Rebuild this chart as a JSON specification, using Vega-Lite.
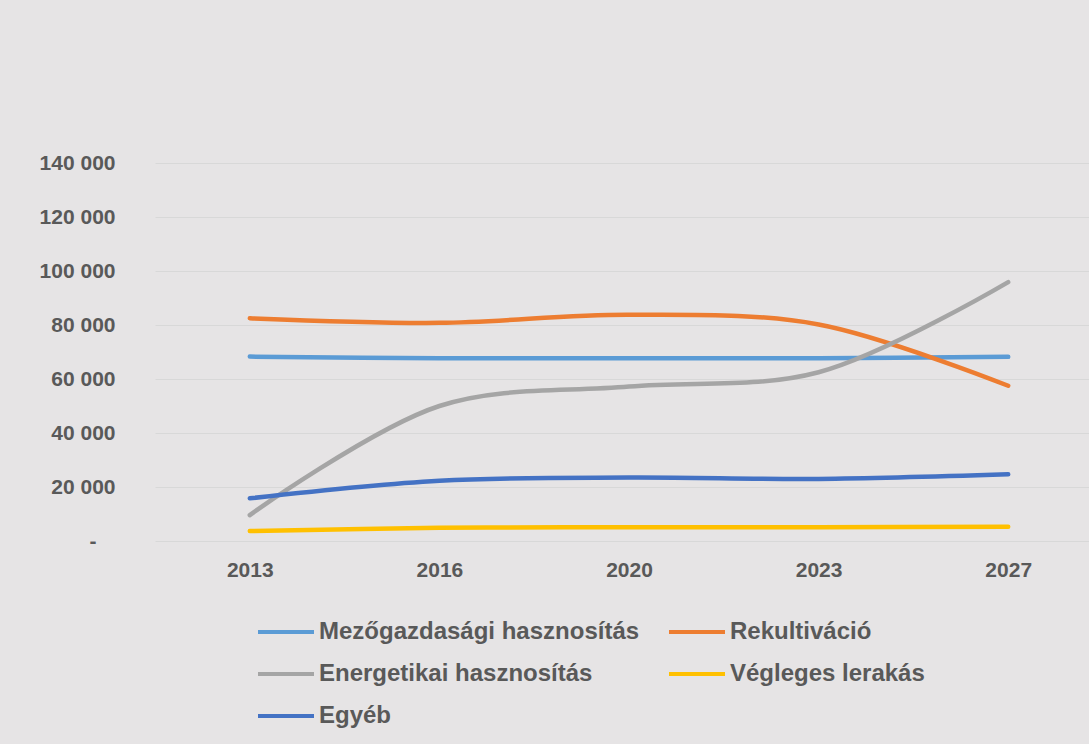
{
  "$schema": "https://vega.github.io/schema/vega-lite/v6.json",
  "autosize": "none",
  "width": 934,
  "height": 378,
  "padding": {"left": 155, "top": 163, "right": 0, "bottom": 203},
  "background": "#e6e4e5",
  "config": {
    "view": {"stroke": null},
    "font": "Liberation Sans",
    "axis": {"labelFont": "Liberation Sans", "labelFontWeight": "bold", "labelColor": "#595959", "labelFontSize": 21}
  },
  "data": {
    "values": [
      {"year": "2013", "series": "Mezőgazdasági hasznosítás", "value": 68300},
      {"year": "2016", "series": "Mezőgazdasági hasznosítás", "value": 67700},
      {"year": "2020", "series": "Mezőgazdasági hasznosítás", "value": 67700},
      {"year": "2023", "series": "Mezőgazdasági hasznosítás", "value": 67700},
      {"year": "2027", "series": "Mezőgazdasági hasznosítás", "value": 68200},
      {"year": "2013", "series": "Rekultiváció", "value": 82500},
      {"year": "2016", "series": "Rekultiváció", "value": 80800},
      {"year": "2020", "series": "Rekultiváció", "value": 83800},
      {"year": "2023", "series": "Rekultiváció", "value": 80200},
      {"year": "2027", "series": "Rekultiváció", "value": 57500},
      {"year": "2013", "series": "Energetikai hasznosítás", "value": 9600},
      {"year": "2016", "series": "Energetikai hasznosítás", "value": 50000},
      {"year": "2020", "series": "Energetikai hasznosítás", "value": 57200},
      {"year": "2023", "series": "Energetikai hasznosítás", "value": 62500},
      {"year": "2027", "series": "Energetikai hasznosítás", "value": 95900},
      {"year": "2013", "series": "Végleges lerakás", "value": 3700},
      {"year": "2016", "series": "Végleges lerakás", "value": 4900},
      {"year": "2020", "series": "Végleges lerakás", "value": 5100},
      {"year": "2023", "series": "Végleges lerakás", "value": 5100},
      {"year": "2027", "series": "Végleges lerakás", "value": 5300},
      {"year": "2013", "series": "Egyéb", "value": 15800},
      {"year": "2016", "series": "Egyéb", "value": 22300},
      {"year": "2020", "series": "Egyéb", "value": 23500},
      {"year": "2023", "series": "Egyéb", "value": 23000},
      {"year": "2027", "series": "Egyéb", "value": 24700}
    ]
  },
  "mark": {"type": "line", "interpolate": "catmull-rom", "strokeWidth": 4.5, "strokeCap": "round"},
  "encoding": {
    "x": {
      "field": "year", "type": "ordinal",
      "scale": {"type": "point", "range": [0, 948], "padding": 0.5},
      "axis": {"title": null, "domain": false, "ticks": false, "labelAngle": 0, "labelPadding": 18, "grid": false}
    },
    "y": {
      "field": "value", "type": "quantitative",
      "scale": {"domain": [0, 140000], "nice": false},
      "axis": {
        "title": null, "domain": false, "ticks": false,
        "labelPadding": {"condition": {"test": "datum.value == 0", "value": 59}, "value": 40},
        "values": [0, 20000, 40000, 60000, 80000, 100000, 120000, 140000],
        "labelExpr": "datum.value == 0 ? '-' : replace(format(datum.value, ','), ',', ' ')",
        "gridColor": "#d8d8d8", "gridWidth": 1
      }
    },
    "color": {
      "field": "series", "type": "nominal",
      "scale": {
        "domain": ["Mezőgazdasági hasznosítás", "Rekultiváció", "Energetikai hasznosítás", "Végleges lerakás", "Egyéb"],
        "range": ["#5B9BD5", "#ED7D31", "#A5A5A5", "#FFC000", "#4472C4"]
      },
      "legend": {
        "title": null, "orient": "none", "legendX": 101, "legendY": 439,
        "direction": "horizontal",
        "columns": 2, "columnPadding": 21, "rowPadding": -6,
        "symbolType": "M-1,0H1", "symbolSize": 3136, "symbolStrokeWidth": 4,
        "labelFont": "Liberation Sans", "labelFontSize": 24, "labelFontWeight": "bold",
        "labelColor": "#595959", "labelOffset": 3, "labelLimit": 0
      }
    }
  }
}
